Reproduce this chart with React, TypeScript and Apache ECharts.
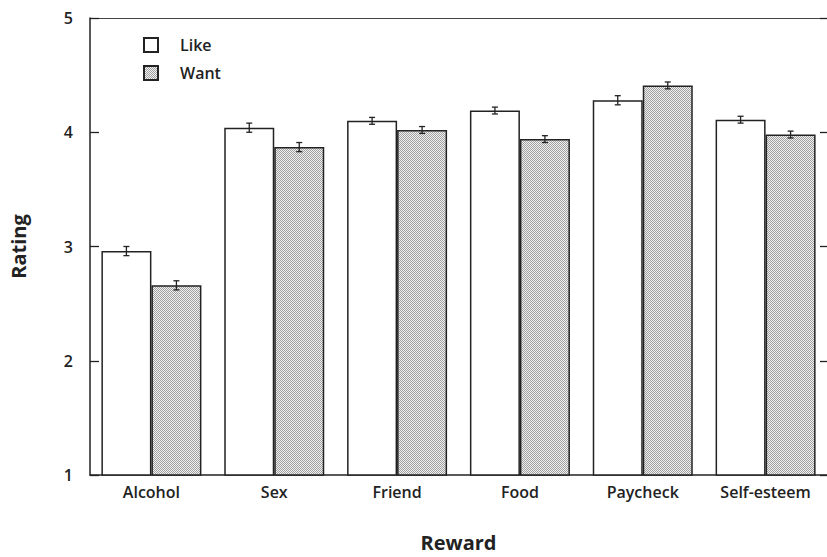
import React, { useEffect, useRef } from "react";
import * as echarts from "echarts";

const categories = ["Alcohol", "Sex", "Friend", "Food", "Paycheck", "Self-esteem"];
const likeValues = [2.96, 4.04, 4.1, 4.19, 4.28, 4.11];
const wantValues = [2.66, 3.87, 4.02, 3.94, 4.41, 3.98];
const likeErrors = [0.04, 0.04, 0.03, 0.03, 0.04, 0.03];
const wantErrors = [0.04, 0.04, 0.03, 0.03, 0.03, 0.03];
const yTicks = [1, 2, 3, 4, 5];

const FONT = "Open Sans";
const INK = "#222222";

function makePattern(): string {
  const c = document.createElement("canvas");
  c.width = 4;
  c.height = 4;
  const ctx = c.getContext("2d")!;
  for (let x = 0; x < 4; x++) {
    for (let y = 0; y < 4; y++) {
      ctx.fillStyle = (x + y) % 2 === 0 ? "#a0a0a0" : "#f0f0f0";
      ctx.fillRect(x, y, 1, 1);
    }
  }
  return c.toDataURL();
}

export default function App() {
  const ref = useRef<HTMLDivElement>(null);
  useEffect(() => {
    if (!ref.current) return;
    const chart = echarts.init(ref.current, undefined, { renderer: "svg" });
    const pattern = { image: makePattern(), repeat: "repeat" } as any;
    const barW = 50;

    const errorSeries = (vals: number[], errs: number[], offset: number, name: string) => ({
      type: "custom",
      name,
      z: 10,
      silent: true,
      renderItem: (params: any, api: any) => {
        const i = api.value(0);
        const v = api.value(1);
        const e = api.value(2);
        const hi = api.coord([i, v + e]);
        const lo = api.coord([i, v - e]);
        const x = hi[0] + offset;
        const cap = 3;
        const st = { stroke: INK, lineWidth: 1.3 };
        return {
          type: "group",
          children: [
            { type: "line", shape: { x1: x, y1: hi[1], x2: x, y2: lo[1] }, style: st },
            { type: "line", shape: { x1: x - cap, y1: hi[1], x2: x + cap, y2: hi[1] }, style: st },
            { type: "line", shape: { x1: x - cap, y1: lo[1], x2: x + cap, y2: lo[1] }, style: st },
          ],
        };
      },
      encode: { x: 0, y: 1 },
      data: vals.map((v, i) => [i, v, errs[i]]),
    });

    chart.setOption({
      animation: false,
      textStyle: { fontFamily: FONT },
      grid: { left: 87, right: 0, top: 18, bottom: 77 },
      legend: {
        orient: "vertical",
        left: 143,
        top: 37,
        padding: 0,
        itemWidth: 14,
        itemHeight: 14,
        itemGap: 12,
        icon: "rect",
        data: ["Like", "Want"],
        textStyle: { fontSize: 16, fontWeight: 600, color: INK, padding: [0, 0, 0, 17], fontFamily: FONT },
      },
      xAxis: [
        {
          type: "category",
          data: categories,
          axisLine: { lineStyle: { color: INK, width: 1.5 } },
          axisTick: { show: false },
          axisLabel: { fontSize: 16, fontWeight: 600, color: INK, margin: 9 },
          name: "Reward",
          nameLocation: "middle",
          nameGap: 57,
          nameTextStyle: { fontSize: 20, fontWeight: "bold", color: INK },
        },
        {
          type: "category",
          position: "top",
          data: categories,
          axisLine: { lineStyle: { color: "#444", width: 1.2 } },
          axisTick: { show: false },
          axisLabel: { show: false },
        },
      ],
      yAxis: [
        {
          type: "value",
          min: yTicks[0],
          max: yTicks[yTicks.length - 1],
          interval: 1,
          axisLine: { show: true, lineStyle: { color: INK, width: 1.5 } },
          axisTick: { show: true, inside: true, length: 9, lineStyle: { color: INK, width: 1.3 } },
          axisLabel: { fontSize: 16, fontWeight: 600, color: INK, margin: 17 },
          splitLine: { show: false },
          name: "Rating",
          nameLocation: "middle",
          nameGap: 62,
          nameRotate: 90,
          nameTextStyle: { fontSize: 20, fontWeight: "bold", color: INK },
        },
        {
          type: "value",
          position: "right",
          min: yTicks[0],
          max: yTicks[yTicks.length - 1],
          interval: 1,
          axisLine: { show: false },
          axisTick: { show: true, inside: true, length: 7, lineStyle: { color: INK, width: 1.3 } },
          axisLabel: { show: false },
          splitLine: { show: false },
        },
      ],
      series: [
        {
          name: "Like",
          type: "bar",
          data: likeValues,
          barWidth: barW,
          barGap: "0%",
          itemStyle: { color: "#ffffff", borderColor: INK, borderWidth: 1.5 },
        },
        {
          name: "Want",
          type: "bar",
          data: wantValues,
          barWidth: barW,
          barGap: "0%",
          itemStyle: { color: pattern, borderColor: INK, borderWidth: 1.5 },
        },
        errorSeries(likeValues, likeErrors, -barW / 2, "likeErr"),
        errorSeries(wantValues, wantErrors, barW / 2, "wantErr"),
      ],
    });
    return () => chart.dispose();
  }, []);
  return (
    <div
      ref={ref}
      style={{ position: "absolute", left: 0, top: 0, width: 827, height: 557 }}
    />
  );
}
